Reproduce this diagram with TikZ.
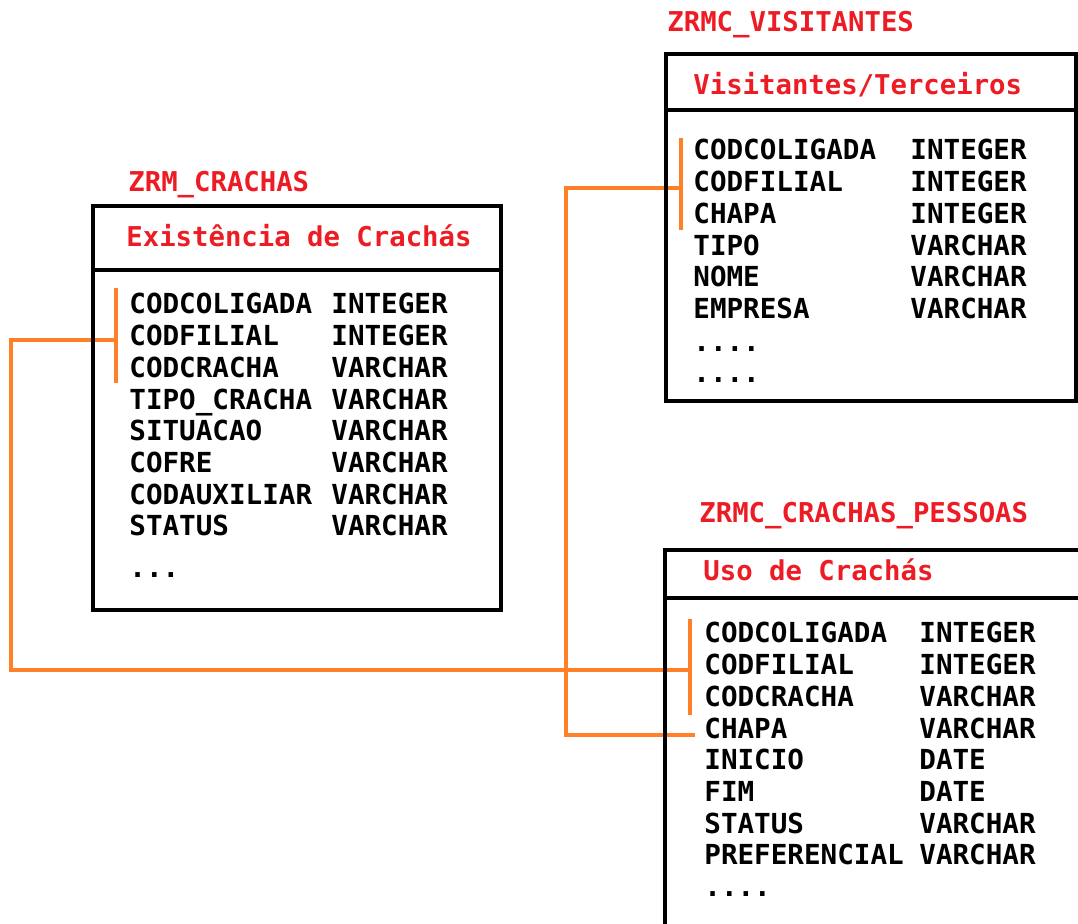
\documentclass[tikz,border=0pt]{standalone}
\usepackage{fontspec}
\setmonofont{DejaVu Sans Mono}
\definecolor{linkorange}{RGB}{255,128,38}
\definecolor{titlered}{RGB}{237,28,36}

\begin{document}
\begin{tikzpicture}[x=0.5pt, y=-0.5pt,
    field/.style={anchor=base west, inner sep=0pt,
      font=\ttfamily\bfseries\fontsize{13.8}{16}\selectfont},
    tname/.style={field, text=titlered,
      font=\ttfamily\bfseries\fontsize{13.65}{16}\selectfont},
    tbox/.style={draw, line width=2.3pt},
    link/.style={draw=linkorange, line width=2.3pt}]
  \useasboundingbox (0,0) rectangle (1078,924);
  \clip (0,0) rectangle (1078,924);

  % key links
  \coordinate (cr-key) at (116,340);
  \coordinate (lbend) at (11,340);
  \coordinate (up-key) at (690,670);
  \coordinate (vi-key) at (681,188);
  \coordinate (mbend) at (566,188);
  \coordinate (up-chapa) at (695,735);
  \draw[link] (116,288) -- (116,383);
  \draw[link] (681,138) -- (681,230);
  \draw[link] (690,619) -- (690,715);
  \draw[link] (cr-key) -- (lbend) |- (up-key);
  \draw[link] (vi-key) -- (mbend) |- (up-chapa);

  % ZRM_CRACHAS
  \node[tname] (cr-title) at (128,192) {ZRM\_CRACHAS};
  \draw[tbox] (93,206) rectangle (501,610);
  \draw[tbox] (93,270) -- (501,270);
  \node[tname] (cr-head) at (126,247) {Existência de Crachás};
  \foreach \n/\t [count=\i] in {CODCOLIGADA/INTEGER, CODFILIAL/INTEGER,
      CODCRACHA/VARCHAR, TIPO\_CRACHA/VARCHAR, SITUACAO/VARCHAR,
      COFRE/VARCHAR, CODAUXILIAR/VARCHAR, STATUS/VARCHAR} {
    \node[field] (cr-n\i) at (129,{314+31.7*(\i-1)}) {\n};
    \node[field] (cr-t\i) at (331,{314+31.7*(\i-1)}) {\t};
  }
  \node[field] (cr-more) at (129,578) {...};

  % ZRMC_VISITANTES
  \node[tname] (vi-title) at (667,32) {ZRMC\_VISITANTES};
  \draw[tbox] (666,54) rectangle (1076,401);
  \draw[tbox] (666,110) -- (1076,110);
  \node[tname] (vi-head) at (693,95) {Visitantes/Terceiros};
  \foreach \n/\t [count=\i] in {CODCOLIGADA/INTEGER, CODFILIAL/INTEGER,
      CHAPA/INTEGER, TIPO/VARCHAR, NOME/VARCHAR, EMPRESA/VARCHAR} {
    \node[field] (vi-n\i) at (693,{160+31.7*(\i-1)}) {\n};
    \node[field] (vi-t\i) at (910,{160+31.7*(\i-1)}) {\t};
  }
  \node[field] (vi-more1) at (693,352) {....};
  \node[field] (vi-more2) at (693,383) {....};

  % ZRMC_CRACHAS_PESSOAS
  \node[tname] (up-title) at (699,523) {ZRMC\_CRACHAS\_PESSOAS};
  \draw[tbox] (1090,550) -- (665,550) -- (665,940);
  \draw[tbox] (665,598) -- (1090,598);
  \node[tname] (up-head) at (703,581) {Uso de Crachás};
  \foreach \n/\t [count=\i] in {CODCOLIGADA/INTEGER, CODFILIAL/INTEGER,
      CODCRACHA/VARCHAR, CHAPA/VARCHAR, INICIO/DATE, FIM/DATE,
      STATUS/VARCHAR, PREFERENCIAL/VARCHAR} {
    \node[field] (up-n\i) at (704,{643+31.7*(\i-1)}) {\n};
    \node[field] (up-t\i) at (919,{643+31.7*(\i-1)}) {\t};
  }
  \node[field] (up-more) at (704,897) {....};
\end{tikzpicture}
\end{document}
